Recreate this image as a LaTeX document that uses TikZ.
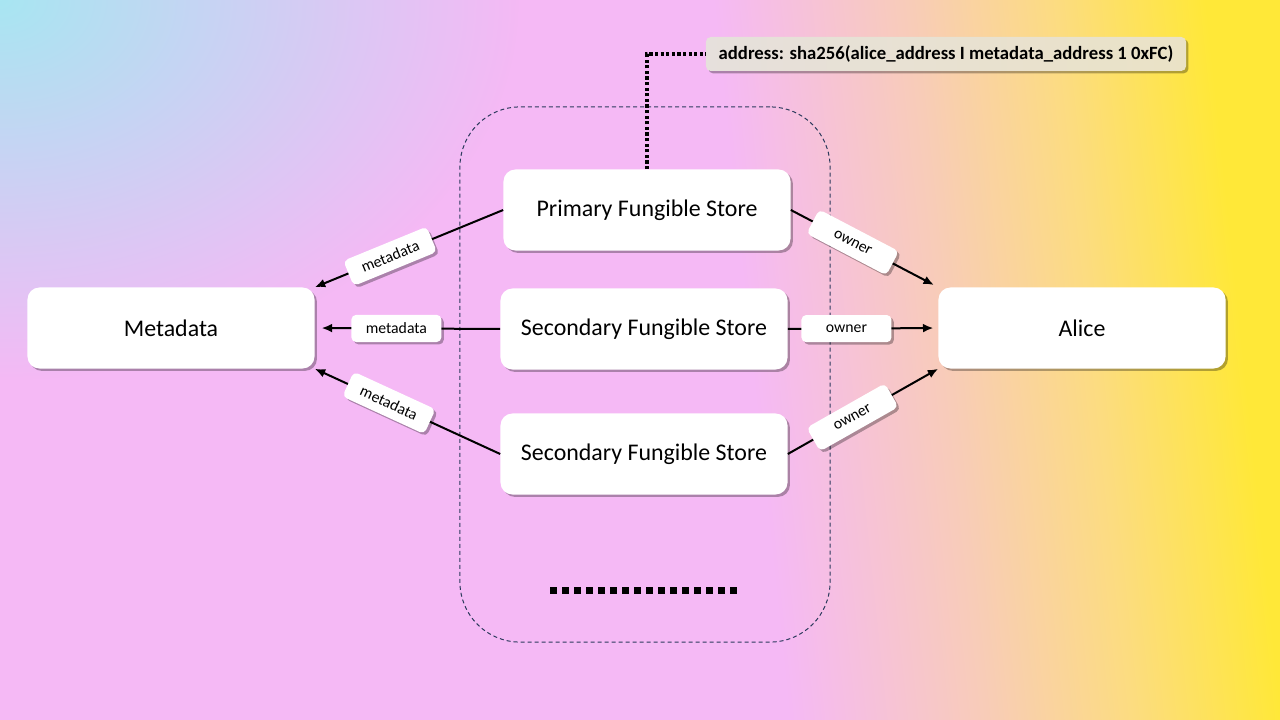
\documentclass[tikz,border=0pt]{standalone}
\usepackage{fontspec}
\setmainfont{Carlito}
\usepackage{tikz}
\usetikzlibrary{arrows.meta,positioning,shadows,fadings}

\definecolor{bgcyan}{HTML}{A8E6F2}
\definecolor{bgpink}{HTML}{F5B9F5}
\definecolor{bgpeach}{HTML}{F8CCB8}
\definecolor{bgsand}{HTML}{FCDC80}
\definecolor{bgyellow}{HTML}{FFE838}
\definecolor{groupline}{HTML}{2B3A5C}
\definecolor{addrleft}{HTML}{E6E0DC}
\definecolor{addrright}{HTML}{EAE2C6}

% the path covers 25bp to 75bp of the shading
\pgfdeclarehorizontalshading{bgwash}{100bp}{color(0bp)=(bgpink); color(54.5bp)=(bgpink); color(62.5bp)=(bgpeach); color(68.5bp)=(bgsand); color(74.5bp)=(bgyellow); color(100bp)=(bgyellow)}
\tikzfading[name=glowfade, inner color=transparent!0, outer color=transparent!100]

\tikzset{
  boxshadow/.style={drop shadow={shadow xshift=0.06cm, shadow yshift=-0.06cm, fill=black, opacity=0.3}},
  storebox/.style={fill=white, rounded corners=0.3cm, minimum width=7.175cm, minimum height=2.025cm, inner sep=0pt, font=\fontsize{17}{20}\selectfont, boxshadow},
  tag/.style={fill=white, rounded corners=0.12cm, minimum width=2.25cm, minimum height=0.68cm, inner sep=0pt, font=\fontsize{11.2}{12}\selectfont, boxshadow},
  link/.style={line width=0.05cm, -{Latex[length=2.6mm, width=2.2mm]}},
}

\begin{document}
\begin{tikzpicture}[x=0.025cm, y=-0.025cm]
    \useasboundingbox (0,0) rectangle (1280,720);

    % Background wash
    \begin{scope}
        \clip (0,0) rectangle (1280,720);
        \shade[shading=bgwash, shading angle=6] (0,0) rectangle (1280,720);
        \fill[bgcyan, path fading=glowfade] (0,0) ellipse [x radius=13cm, y radius=9.5cm];
    \end{scope}

    % Group of fungible stores
    \node[draw=groupline, line width=0.025cm, dash pattern=on 0.1cm off 0.075cm, rounded corners=1.5cm,
          minimum width=9.25cm, minimum height=13.375cm] (group) at (645,374.5) {};
    \draw[line width=0.175cm, dash pattern=on 0.175cm off 0.125cm] (550,590) -- (737,590);

    % Stores and accounts
    \node[storebox] (primary) at (647,210) {Primary Fungible Store};
    \node[storebox] (secondA) at (644,329) {Secondary Fungible Store};
    \node[storebox] (secondB) at (644,454) {Secondary Fungible Store};
    \node[storebox] (meta) at (171,328) {Metadata};
    \node[storebox] (alice) at (1082,328) {Alice};

    % Store address
    \node[left color=addrleft, right color=addrright, rounded corners=0.12cm, minimum width=12cm, minimum height=0.85cm,
          font=\fontsize{13.3}{15}\selectfont\bfseries, boxshadow] (addr) at (946,54)
          {address: sha256(alice\_address I metadata\_address 1 0xFC)};
    \draw[line width=0.08cm, dash pattern=on 0.08cm off 0.06cm] (primary.north) |- (addr.west);

    % Metadata references
    \draw[link] (primary.west) -- node[tag, sloped, pos=0.6] {metadata} (meta.north east);
    \draw[link, shorten >=0.17cm] (secondA.west) -- node[tag, pos=0.56] {metadata} (meta.east);
    \draw[link] (secondB.west) -- node[tag, sloped, pos=0.6] {metadata} (meta.south east);

    % Owner references
    \draw[link, shorten >=0.12cm] (primary.east) -- node[tag, sloped, pos=0.42] {owner} (alice.north west);
    \draw[link, shorten >=0.12cm] (secondA.east) -- node[tag, pos=0.39] {owner} (alice.west);
    \draw[link] (secondB.east) -- node[tag, sloped, pos=0.43] {owner} (alice.south west);
\end{tikzpicture}
\end{document}
